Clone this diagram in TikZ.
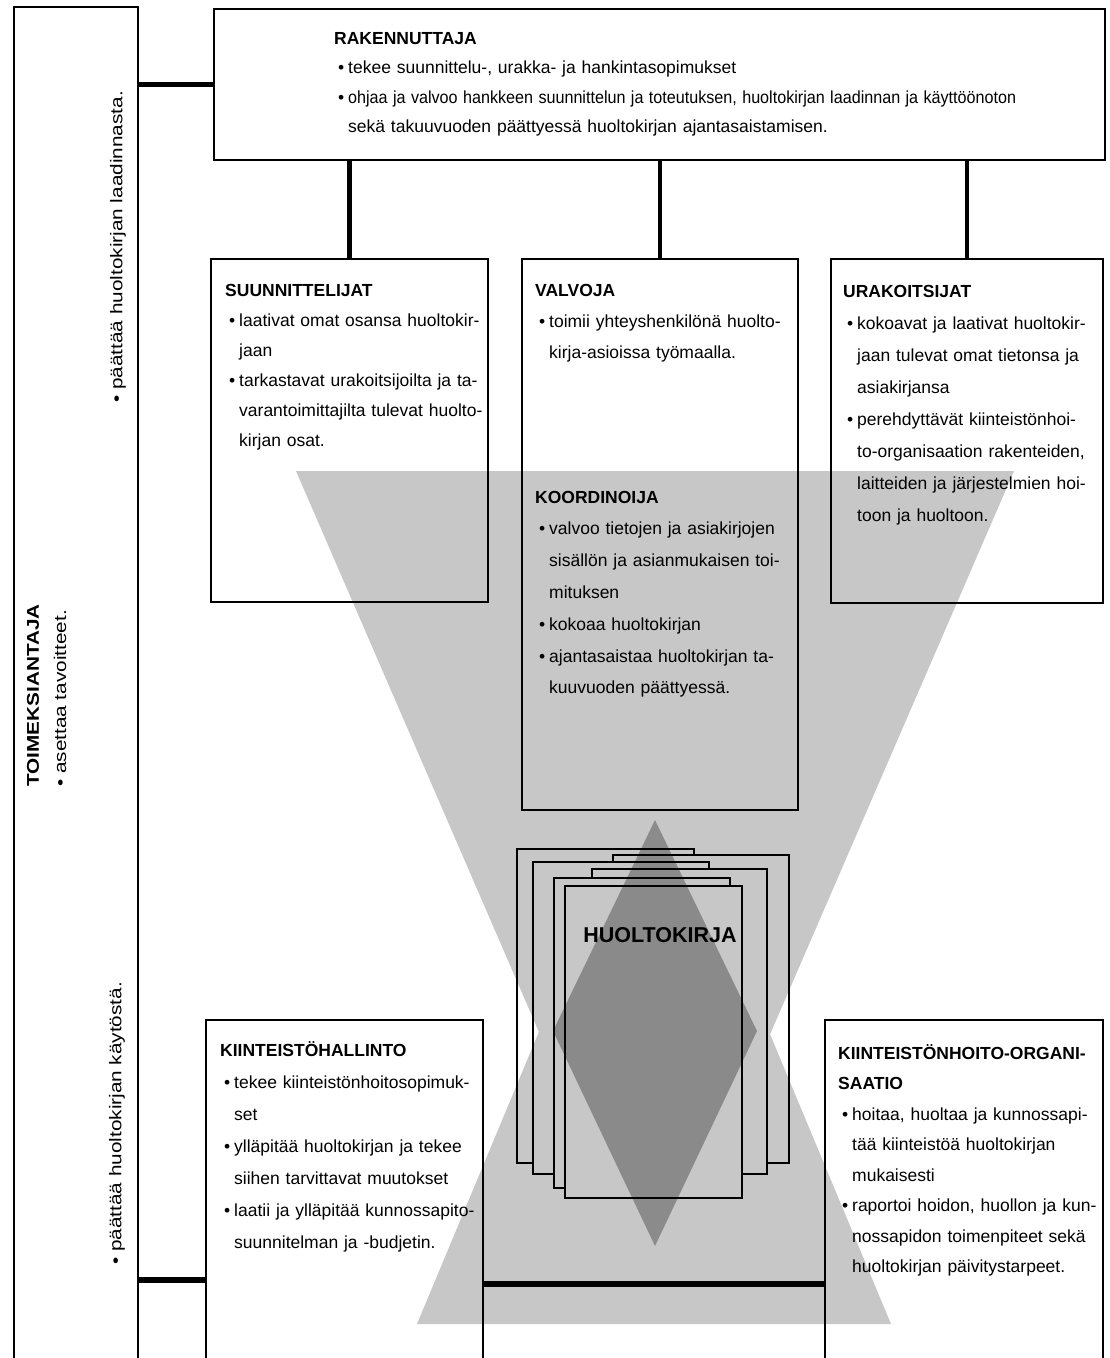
\documentclass[tikz,border=0pt]{standalone}
\usepackage{fontspec}
\setmainfont{Liberation Sans}
\usepackage{graphicx}
\usetikzlibrary{positioning}

\newlength{\bulw}\setlength{\bulw}{14pt}
\newcommand{\itemj}[1]{\par\noindent\makebox[\bulw][c]{\textbullet}\hbox to\dimexpr\linewidth-\bulw\relax{#1}}
\newcommand{\itemn}[1]{\par\noindent\makebox[\bulw][c]{\textbullet}#1}
\newcommand{\contj}[1]{\par\noindent\hspace*{\bulw}\hbox to\dimexpr\linewidth-\bulw\relax{#1}}
\newcommand{\contn}[1]{\par\noindent\hspace*{\bulw}#1}

\begin{document}
\begin{tikzpicture}[x=1pt, y=-1pt,
        box/.style={draw, line width=1.6pt, inner sep=0pt, outer sep=0pt, anchor=north west},
        sheet/.style={draw, fill=white, line width=2.6pt},
        link/.style={line width=4.5pt},
        txt/.style={anchor=base west, inner sep=0pt, text width=#1, font=\fontsize{17.5}{31}\selectfont},
        lead/.style={font=\fontsize{17.5}{#1}\selectfont},
        vtxt/.style={rotate=90, anchor=west, inner sep=0pt, font=\fontsize{17}{20}\selectfont},
        hourglass/.style={fill=black, fill opacity=0.22},
        diamondfill/.style={fill=black, fill opacity=0.3},
    ]
\useasboundingbox (0,0) rectangle (1110,1358);
\clip (0,0) rectangle (1110,1358);

\node[box, minimum width=124, minimum height=1400] (Toimeksiantaja) at (14,7) {};
\node[box, minimum width=891, minimum height=151] (Rakennuttaja) at (214,9) {};
\node[box, minimum width=277, minimum height=343] (Suunnittelijat) at (211,259) {};
\node[box, minimum width=276, minimum height=551] (Valvoja) at (522,259) {};
\node[box, minimum width=272, minimum height=344] (Urakoitsijat) at (831,259) {};
\node[box, minimum width=277, minimum height=400] (Hallinto) at (206,1020) {};
\node[box, minimum width=278, minimum height=400] (Hoito) at (825,1020) {};

\foreach \xa/\ya/\xb/\yb in {517/849/694/1163, 613/855/789/1163, 533/862/709/1174, 592/869/767/1174, 554/878/730/1188, 565/886/742/1198}
    \draw[sheet] (\xa,\ya) rectangle (\xb,\yb);

\fill[hourglass] (296,471) -- (1014,471) -- (655,1300) -- cycle (891,1324) -- (417,1324) -- (654,756) -- cycle;
\fill[diamondfill] (655,820) -- (757,1031) -- (655,1246) -- (553,1031) -- cycle;

\node[font=\fontsize{21.5}{24}\selectfont\bfseries, inner sep=0pt] (Huoltokirja) at (660,935) {HUOLTOKIRJA};

\node[vtxt] (Laadinta) at (118,403) {\scalebox{1.22}[1]{\textbullet\ päättää huoltokirjan laadinnasta.}};
\node[vtxt] (ToimTitle) at (33,787) {\scalebox{1.22}[1]{\bfseries TOIMEKSIANTAJA}};
\node[vtxt] (Tavoitteet) at (60,787) {\scalebox{1.22}[1]{\textbullet\ asettaa tavoitteet.}};
\node[vtxt] (Kaytto) at (117,1265) {\scalebox{1.22}[1]{\textbullet\ päättää huoltokirjan käytöstä.}};

\node[txt=681pt, lead=29.5] (RakText) at ([xshift=120, yshift=-35]Rakennuttaja.north west) {\textbf{RAKENNUTTAJA}
    \itemn{tekee suunnittelu-, urakka- ja hankintasopimukset}
    \itemn{\resizebox{668pt}{\height}{ohjaa ja valvoo hankkeen suunnittelun ja toteutuksen, huoltokirjan laadinnan ja käyttöönoton}}
    \contn{sekä takuuvuoden päättyessä huoltokirjan ajantasaistamisen.}};

\node[txt=254pt, lead=30] (SuunText) at ([xshift=14, yshift=-37]Suunnittelijat.north west) {\textbf{SUUNNITTELIJAT}
    \itemj{laativat omat osansa huoltokir-}
    \contn{jaan}
    \itemj{tarkastavat urakoitsijoilta ja ta-}
    \contj{varantoimittajilta tulevat huolto-}
    \contn{kirjan osat.}};

\node[txt=250pt] (ValvText) at ([xshift=13, yshift=-37]Valvoja.north west) {\textbf{VALVOJA}
    \itemj{toimii yhteyshenkilönä huolto-}
    \contn{kirja-asioissa työmaalla.}};

\node[txt=250pt, lead=31.8] (KoordText) at ([xshift=13, yshift=-244]Valvoja.north west) {\textbf{KOORDINOIJA}
    \itemj{valvoo tietojen ja asiakirjojen}
    \contj{sisällön ja asianmukaisen toi-}
    \contn{mituksen}
    \itemn{kokoaa huoltokirjan}
    \itemj{ajantasaistaa huoltokirjan ta-}
    \contn{kuuvuoden päättyessä.}};

\node[txt=240pt, lead=32] (UrakText) at ([xshift=12, yshift=-38]Urakoitsijat.north west) {\textbf{URAKOITSIJAT}
    \itemj{kokoavat ja laativat huoltokir-}
    \contj{jaan tulevat omat tietonsa ja}
    \contn{asiakirjansa}
    \itemj{perehdyttävät kiinteistönhoi-}
    \contj{to-organisaation rakenteiden,}
    \contj{laitteiden ja järjestelmien hoi-}
    \contn{toon ja huoltoon.}};

\node[txt=250pt, lead=32] (HallText) at ([xshift=14, yshift=-36]Hallinto.north west) {\textbf{KIINTEISTÖHALLINTO}
    \itemj{tekee kiinteistönhoitosopimuk-}
    \contn{set}
    \itemj{ylläpitää huoltokirjan ja tekee}
    \contn{siihen tarvittavat muutokset}
    \itemj{laatii ja ylläpitää kunnossapito-}
    \contn{suunnitelman ja -budjetin.}};

\node[txt=252pt, lead=30.5] (HoitoText) at ([xshift=13, yshift=-39]Hoito.north west) {\mbox{\textbf{KIINTEISTÖNHOITO-ORGANI-}}\par\textbf{SAATIO}
    \itemj{hoitaa, huoltaa ja kunnossapi-}
    \contj{tää kiinteistöä huoltokirjan}
    \contn{mukaisesti}
    \itemj{raportoi hoidon, huollon ja kun-}
    \contj{nossapidon toimenpiteet sekä}
    \contn{huoltokirjan päivitystarpeet.}};

\coordinate (LowLeft) at (0,1280);
\coordinate (LowRight) at (0,1284);
\draw[link] (Rakennuttaja.west) -- (Rakennuttaja.west -| Toimeksiantaja.east);
\foreach \b in {Suunnittelijat, Valvoja, Urakoitsijat}
    \draw[link] (\b.north) -- (\b.north |- Rakennuttaja.south);
\draw[link, line width=6pt] (Toimeksiantaja.east |- LowLeft) -- (Hallinto.west |- LowLeft);
\draw[link, line width=6pt] (Hallinto.east |- LowRight) -- (Hoito.west |- LowRight);
\end{tikzpicture}
\end{document}
